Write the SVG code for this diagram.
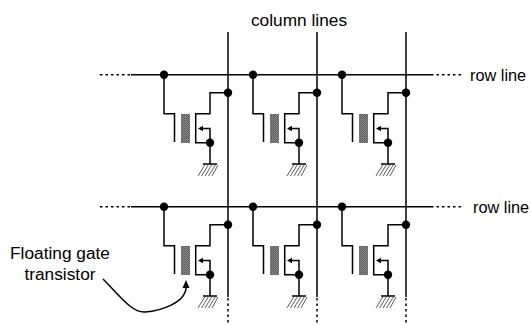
<svg xmlns="http://www.w3.org/2000/svg" xmlns:xlink="http://www.w3.org/1999/xlink" width="531" height="325" viewBox="0 0 531 325">
<style>
.w{fill:none;stroke:#000;stroke-width:1.5}
.d{fill:none;stroke:#000;stroke-width:1.5;stroke-dasharray:2.500 3}
.h{fill:none;stroke:#333;stroke-width:.8}
.t{font-family:"Liberation Sans",Arial,sans-serif;font-size:17.300px;fill:#000}
.r{font-size:16.300px}
</style>
<defs>
<pattern id="g" width="2" height="2" patternUnits="userSpaceOnUse"><rect width="2" height="2" fill="#888"/><rect width="1" height="1" fill="#555"/><rect x="1" y="1" width="1" height="1" fill="#666"/></pattern>
<g id="cell">
<path class="w" d="M164 75V113.700H174.500V142"/>
<rect x="181" y="114" width="9" height="29" fill="url(#g)"/>
<path class="w" d="M228 92.700H210V113.700H195.700V142.700H210M210 142.700V164M210 142.700V128.500H200"/>
<path d="M198 128.500L203 125.800V131.200Z" fill="#000"/>
<circle cx="164" cy="74.700" r="4.200"/>
<circle cx="228" cy="92.700" r="4.200"/>
<circle cx="210" cy="142.700" r="4.200"/>
<path class="w" d="M203 164H217"/>
<path class="h" d="M205 164.500L198 176M208.500 164.500L201.500 176M212 164.500L205 176M215.500 164.500L208.500 176M218 165L212 176"/>
</g>
</defs>
<g id="connectors">
<path class="w" d="M131 74.700H431M131 206.700H431M228 32V297M317 32V297M406 32V297"/>
<path class="d" d="M100 74.700H131M431 74.700H463M100 206.700H131M431 206.700H463M228 298V325M317 298V325M406 298V325"/>
<path class="w" d="M103 279C120 296 132 313 145 312C160 311 186 303 186 287"/>
<path d="M186 280L182.500 288H189.500Z" fill="#000"/>
</g>
<g id="cell-1-1"><use href="#cell"/></g>
<g id="cell-1-2"><use href="#cell" x="89"/></g>
<g id="cell-1-3"><use href="#cell" x="178"/></g>
<g id="cell-2-1"><use href="#cell" y="132"/></g>
<g id="cell-2-2"><use href="#cell" x="89" y="132"/></g>
<g id="cell-2-3"><use href="#cell" x="178" y="132"/></g>
<g id="labels">
<text class="t" x="299" y="25.500" text-anchor="middle">column lines</text>
<text class="t r" x="470" y="81">row line</text>
<text class="t r" x="473" y="213">row line</text>
<text class="t" x="60" y="259" text-anchor="middle">Floating gate</text>
<text class="t" x="60" y="280" text-anchor="middle">transistor</text>
</g>
</svg>
